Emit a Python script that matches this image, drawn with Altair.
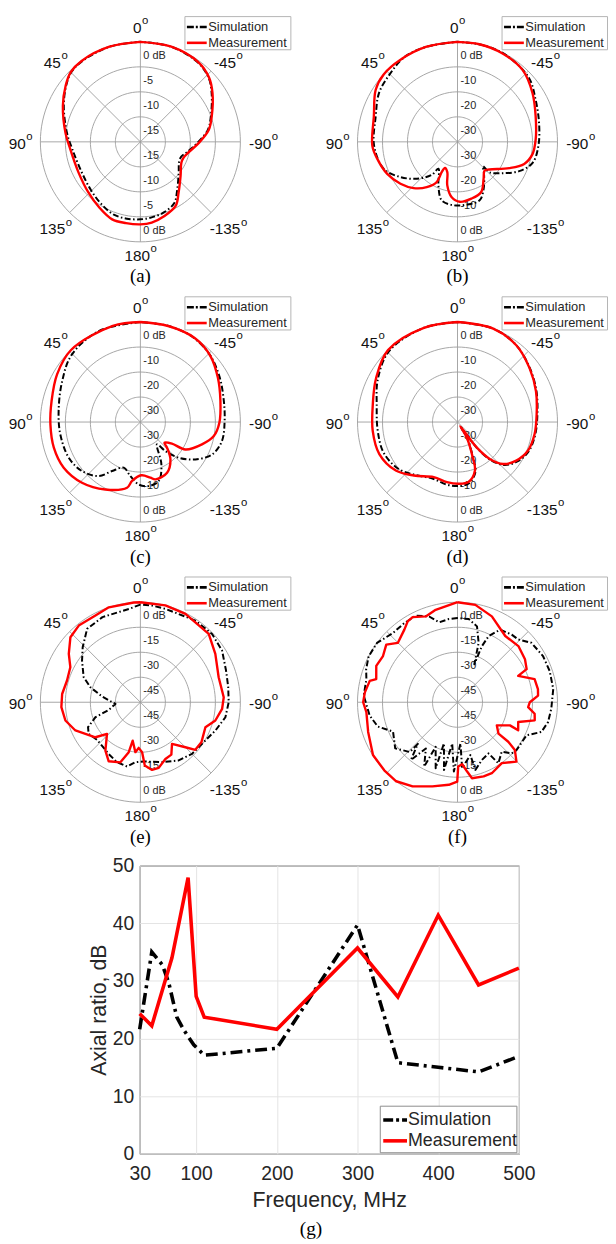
import altair as alt
import pandas as pd

# ---------------- polar pattern data (angle: deg, CCW from 0 deg at top; level: dB) ----------------
A_SIM_ANG = [0, 18, 36, 45, 53, 65, 83, 96, 116, 134, 148, 160, 170, 180, 188, 198, 209, 217, 230, 243, 250, 258, 269, 280, 290, 304, 313, 324, 342, 360]
A_SIM_DB = [0, 0, -0.1, -0.4, -1.4, -3.1, -5.2, -6.3, -6.8, -6.2, -5.3, -4.5, -4.4, -4.5, -4.7, -5.1, -6.0, -7.8, -10.0, -11.3, -11.3, -10.4, -8.6, -6.3, -5.0, -2.8, -1.3, -0.4, 0, 0]
A_MEAS_ANG = [0, 18, 36, 45, 53, 65, 83, 96, 116, 134, 148, 160, 170, 180, 188, 198, 209, 217, 230, 243, 250, 258, 269, 280, 290, 304, 313, 324, 342, 360]
A_MEAS_DB = [0, 0, 0, -0.3, -1.3, -2.9, -4.9, -5.9, -6.2, -5.5, -4.5, -3.5, -3.5, -3.5, -3.7, -4.4, -5.4, -7.3, -9.5, -10.8, -10.8, -10.1, -8.3, -6.1, -4.8, -2.6, -1.2, -0.3, 0, 0]

B_SIM_ANG = [0, 18, 32, 45, 58, 72.5, 92.7, 110.2, 121.7, 132.3, 142, 144.7, 156.3, 164.8, 176.1, 188.1, 200.7, 209.1, 221, 226.1, 226.5, 235.3, 244.6, 254.3, 267.2, 283.2, 298.4, 311.6, 330, 345, 360]
B_SIM_DB = [0, 0, 0, -1.7, -3, -5.7, -6.6, -8.6, -13.2, -18.1, -23.2, -26.8, -21, -15.8, -14.6, -14.6, -15, -18.5, -23.9, -25.9, -22.3, -18, -12.7, -8.8, -7.6, -6.5, -4.5, -1.7, -0.3, 0, 0]
B_MEAS_ANG = [0, 18, 35, 47.6, 57.5, 72.9, 92.7, 102, 114.5, 126.3, 136.5, 145.8, 152.7, 152.5, 154.3, 161.4, 166.8, 173.8, 182.2, 193.7, 205.3, 215.2, 223.3, 229.1, 243, 251.7, 260.7, 272, 288.2, 303.1, 317.9, 333, 347.4, 360]
B_MEAS_DB = [0, 0, 0, 0, -1.2, -5.0, -5.9, -7.2, -9.1, -11.7, -14.5, -18.1, -21.9, -26.3, -28.4, -27.2, -22.1, -17.8, -16, -16.6, -17.8, -21.9, -24.2, -23.1, -16.8, -11.9, -9.6, -8.7, -7.1, -4.2, -1.2, -0.3, 0, 0]

C_SIM_ANG = [0, 24, 45.3, 62.4, 82.3, 98.8, 116.5, 130, 142.3, 150, 160, 169.5, 178.5, 187.4, 197.3, 206.4, 216.7, 220.8, 227.1, 235.8, 245.7, 256.9, 270.7, 285, 300, 315, 330, 345, 360]
C_SIM_DB = [0, 0, -1.5, -4.7, -7, -7.6, -8, -9.5, -12.7, -17.4, -20.6, -18, -15, -14.2, -15.3, -21.1, -28.9, -24.7, -19, -13.4, -8.5, -6.5, -6.3, -5.5, -3.5, -1.2, 0, 0, 0]
C_MEAS_ANG = [0, 16, 43.9, 60.2, 76.7, 91.5, 106.5, 120.8, 136.1, 152.5, 168.5, 172, 181.1, 190.2, 194.7, 207.8, 218.8, 226.1, 229.3, 235.6, 238.7, 250.1, 259.2, 269.5, 284.7, 299.7, 313.3, 326.9, 343.8, 360]
C_MEAS_DB = [0, 0, 0, -1.6, -3.5, -4, -3.9, -4.3, -6.3, -9.6, -13.2, -16.2, -18.7, -17.4, -16.3, -17.1, -20.8, -25.2, -27.3, -24.7, -18.9, -13.8, -10.1, -8.4, -6.9, -4.3, -1.5, 0, 0, 0]

D_SIM_ANG = [0, 20, 44, 61.7, 78.3, 96, 112.3, 128.2, 140.8, 156.7, 170, 181, 190.3, 199.8, 203.3, 210.8, 214, 217, 221.2, 227.4, 236.7, 247.8, 261, 275.5, 291.3, 306.8, 322.6, 339.1, 360]
D_SIM_DB = [0, 0, -0.6, -3.8, -7, -7.9, -8, -9.8, -12.8, -15.3, -14.6, -14.4, -15, -18.8, -24, -32.4, -37.5, -27, -19.8, -14.6, -11.3, -9.2, -8.5, -7.9, -6.1, -3.9, -1.3, 0, 0]
D_MEAS_ANG = [0, 20, 44, 61.7, 78.3, 96, 112.3, 128.2, 140.8, 156.7, 170, 181, 190.3, 199.8, 203.3, 210.8, 214, 217, 221.2, 227.4, 236.7, 247.8, 261, 275.5, 291.3, 306.8, 322.6, 339.1, 360]
D_MEAS_DB = [0, 0, 0, -3, -5.4, -5.9, -6.2, -8.6, -12.4, -16, -15.6, -15.3, -15.6, -19.4, -24.6, -32.8, -38, -27.3, -20.4, -15.2, -11.9, -9.6, -8.8, -8.2, -6.3, -4, -1.3, 0, 0]

E_SIM_ANG = [0, 7, 24, 36, 46.4, 54.5, 66.2, 73.3, 81.6, 93.8, 103.6, 108.4, 115.5, 121.5, 131, 148.5, 158.7, 168.3, 175.2, 183.2, 200, 213.3, 225, 236, 249.3, 260, 270, 280, 290.3, 302.3, 313.6, 326, 345, 353, 360]
E_SIM_DB = [-1.4, -3.6, -4.1, -5.6, -12.2, -17, -22.8, -28.7, -36.8, -45, -40.5, -31.6, -25.2, -23.6, -25.6, -23.6, -21.4, -20.6, -23.9, -24.4, -21.8, -18.2, -16.2, -15.4, -11.9, -8.2, -7, -6.5, -5.2, -2, -0.6, -0.9, -2, -1.6, -1.4]
E_MEAS_ANG = [0, 3.8, 18.4, 27.4, 38.8, 47.1, 56, 63.4, 73.5, 84, 93.6, 103.7, 113.5, 127.9, 133.5, 144.1, 151.8, 161.6, 166.9, 168.7, 174.3, 177.9, 182, 184, 189.8, 195.6, 203.8, 210.6, 217.2, 225, 229.1, 236.7, 249, 256.3, 265.3, 273.4, 287.7, 302.8, 315, 333, 345.5, 360]
E_MEAS_DB = [0, 0, 0, -1.4, -1, -2.7, -8.2, -13, -14.1, -12.8, -12.5, -13.7, -17.5, -25.8, -32.4, -24.2, -19.8, -22, -29.2, -36.5, -29.9, -32.6, -30, -21.9, -18.8, -19.1, -22.8, -23.5, -28.6, -21.8, -16.4, -16.2, -18.2, -13.7, -10.8, -9.9, -10.7, -6.5, -2, -0.5, 0, 0]

F_SIM_ANG = [0, 5.9, 13, 18.3, 25.7, 33.9, 43, 53.6, 62.7, 70.1, 75.8, 86, 98.6, 107, 114.5, 126.5, 136.2, 136.4, 141.1, 145.6, 152.6, 153.9, 161.7, 161.8, 168.7, 172.7, 177, 184.1, 184, 193.7, 194.8, 202.9, 211.2, 213.8, 221.8, 226.6, 231, 244.4, 250.5, 257.6, 266, 277.9, 288.8, 298.4, 308.8, 316, 321.3, 329.6, 334.8, 336.5, 336.1, 340.4, 345.6, 352.3, 360]
F_SIM_DB = [-9.5, -9.8, -10.8, -5.8, -2.4, -2.8, -3.2, 0, 0, -1.7, -3.6, -3.6, -6.7, -10, -17.5, -13.5, -18.6, -25.5, -15.5, -26.4, -16.5, -30.2, -18.3, -34, -18.6, -35, -18.4, -35.2, -20.4, -27.4, -18, -22.4, -24.1, -15.9, -20.2, -15.3, -14.4, -14.1, -6.6, -4.4, -3.6, -2, -1.6, -1.7, -3.1, -7.6, -8, -9.5, -16.2, -23.3, -35.1, -22.2, -13, -9.6, -9.5]
F_MEAS_ANG = [0, 13.3, 20.3, 27.8, 31.6, 36.2, 45.2, 51, 58.2, 65.9, 74.1, 76.3, 83.9, 90, 96.2, 108.4, 122, 132.9, 142.2, 151.9, 163.4, 174, 179.8, 180.6, 184.3, 187.9, 190.8, 199.4, 205.8, 216, 224.8, 230.2, 232.1, 232.5, 239.5, 246.2, 245.2, 252, 256.8, 261.5, 266, 270, 274.7, 279.3, 286.7, 293.5, 295.6, 302.5, 312.7, 324.2, 338.2, 349.6, 360]
F_MEAS_DB = [0, -3, -5.1, -2.3, -3, -6, -9.5, -5, -7.4, -6.6, -9.3, -5.8, -4.1, -3.4, -5, -3.5, -0.2, 0, 0, -2.8, -7.3, -10.2, -12.4, -21.4, -22.7, -18, -13.6, -12.8, -12.7, -14.8, -9.8, -15.2, -21.4, -29, -32.6, -25.6, -19.9, -21.7, -12.4, -13.2, -17.5, -16.6, -11.5, -11.1, -11.7, -20.3, -14, -12, -10.3, -11, -4.5, -0.6, 0]

PANEL_TAGS = ["(a)", "(b)", "(c)", "(d)", "(e)", "(f)"]
PANEL_RMIN = [-20, -40, -40, -40, -60, -60]
RING_LABELS = [  # inner -> outer ring
    ["-15", "-10", "-5", "0 dB"],
    ["-30", "-20", "-10", "0 dB"],
    ["-30", "-20", "-10", "0 dB"],
    ["-30", "-20", "-10", "0 dB"],
    ["-45", "-30", "-15", "0 dB"],
    ["-45", "-30", "-15", "0 dB"],
]
ANGLE_TICKS = [0, 45, 90, 135, 180, -135, -90, -45]
SPOKES = [0, 45, 90, 135]
RING_FRACS = [0.25, 0.5, 0.75, 1.0]
SERIES = ["Simulation", "Measurement"]

# ---------------- axial ratio data ----------------
SIM_FREQ = [30, 45, 58, 66, 76, 85, 97, 110, 200, 300, 350, 400, 450, 500]
SIM_AR = [21.6, 35.0, 32.8, 29.7, 23.7, 21.4, 18.9, 17.1, 18.3, 39.7, 15.8, 15.0, 14.2, 16.9]
MEAS_FREQ = [30, 45, 70, 90, 100, 110, 200, 300, 350, 400, 450, 500]
MEAS_AR = [24.3, 22.2, 34.0, 47.9, 27.3, 23.7, 21.6, 35.7, 27.2, 41.4, 29.3, 32.2]
FREQ_TICKS = [30, 100, 200, 300, 400, 500]
AR_TICKS = [0, 10, 20, 30, 40, 50]

CURVES = [
    (A_SIM_ANG, A_SIM_DB, A_MEAS_ANG, A_MEAS_DB),
    (B_SIM_ANG, B_SIM_DB, B_MEAS_ANG, B_MEAS_DB),
    (C_SIM_ANG, C_SIM_DB, C_MEAS_ANG, C_MEAS_DB),
    (D_SIM_ANG, D_SIM_DB, D_MEAS_ANG, D_MEAS_DB),
    (E_SIM_ANG, E_SIM_DB, E_MEAS_ANG, E_MEAS_DB),
    (F_SIM_ANG, F_SIM_DB, F_MEAS_ANG, F_MEAS_DB),
]
INTERP = ["catmull-rom"] * 4 + ["linear"] * 2

# ---------------- style / layout ----------------
FONT = "Liberation Sans"
SERIF = "Liberation Serif"
TXT = "#262626"
GRID = "#9c9c9c"
RED = "#ff0000"
R_PX = 101.0
PANEL_H = 282
LEFT_W, RIGHT_W = 300, 306
LEFT_CX, RIGHT_CX = 133.7, 154.0
CY = 128.0
FS_ANG = 15.5
FS_O = 11.5
OW = 0.556 * FS_O
SIM_DASH = [6, 2.5, 1.5, 2.5]

ONE = pd.DataFrame({"k": [0]})


def curve_df(ang, db):
    return pd.DataFrame({"ang": ang, "db": db, "idx": list(range(len(ang)))})


def polar_panel(k, width, cx):
    sim_ang, sim_db, meas_ang, meas_db = CURVES[k]
    rmin = PANEL_RMIN[k]
    xs = alt.Scale(domain=[-cx / R_PX, (width - cx) / R_PX], nice=False, zero=False)
    ys = alt.Scale(domain=[(CY - PANEL_H) / R_PX, CY / R_PX], nice=False, zero=False)

    def X(f):
        return alt.X(f, type="quantitative", scale=xs, axis=None)

    def Y(f):
        return alt.Y(f, type="quantitative", scale=ys, axis=None)

    ring_rows = pd.DataFrame([{"ring": r, "ang": a} for r in RING_FRACS for a in range(0, 361, 3)])
    rings = alt.Chart(ring_rows).transform_calculate(
        px="-datum.ring*sin(datum.ang*PI/180)", py="datum.ring*cos(datum.ang*PI/180)"
    ).mark_line(color=GRID, strokeWidth=0.9).encode(
        x=X("px"), y=Y("py"), detail="ring:N", order=alt.Order("ang:Q")
    )

    spokes = alt.Chart(pd.DataFrame({"ang": SPOKES})).transform_calculate(
        x1="-sin(datum.ang*PI/180)", y1="cos(datum.ang*PI/180)",
        x2="sin(datum.ang*PI/180)", y2="-cos(datum.ang*PI/180)",
    ).mark_rule(color=GRID, strokeWidth=0.9).encode(x=X("x1"), y=Y("y1"), x2="x2:Q", y2="y2:Q")

    labs = RING_LABELS[k]
    lab_df = pd.DataFrame({
        "ring": RING_FRACS + RING_FRACS,
        "txt": labs + labs,
        "side": [1] * 4 + [-1] * 4,
    })
    ring_text = alt.Chart(lab_df).transform_calculate(
        lx=f"{3.0 / R_PX}",
        ly=f"datum.side > 0 ? datum.ring - {14.0 / R_PX} : -(datum.ring - {11.0 / R_PX})",
    ).mark_text(font=FONT, fontSize=11, color=TXT, align="left", baseline="middle").encode(
        x=X("lx"), y=Y("ly"), text="txt:N"
    )

    def curve_layer(ang, db, color, width_, dash=None):
        kw = dict(color=color, strokeWidth=width_, interpolate=INTERP[k], strokeJoin="round")
        if dash:
            kw["strokeDash"] = dash
        return alt.Chart(curve_df(ang, db)).transform_calculate(
            rho=f"(datum.db - ({rmin})) / {-rmin}",
            px="-datum.rho*sin(datum.ang*PI/180)",
            py="datum.rho*cos(datum.ang*PI/180)",
        ).mark_line(**kw).encode(x=X("px"), y=Y("py"), order=alt.Order("idx:Q"))

    sim = curve_layer(sim_ang, sim_db, "black", 2.0, SIM_DASH)
    meas = curve_layer(meas_ang, meas_db, RED, 2.4)

    ang_base = alt.Chart(pd.DataFrame({"ang": ANGLE_TICKS})).transform_calculate(
        t="toString(datum.ang)",
        s="sin(datum.ang*PI/180)",
        c="cos(datum.ang*PI/180)",
        numw=f"{FS_ANG}*(0.556*length(toString(datum.ang)) - (datum.ang < 0 ? 0.223 : 0))",
        lx=f"-datum.s*1.2 + (datum.ang < 0 ? {3.0 / R_PX} : 0) + (datum.numw - {OW})/2/{R_PX}",
        ly="datum.c*1.14 - (datum.c < -0.1 ? 0.1 : 0.02)*abs(datum.s)",
    )
    ang_num = ang_base.mark_text(font=FONT, fontSize=FS_ANG, color="#111111", align="right",
                                 baseline="middle").encode(x=X("lx"), y=Y("ly"), text="t:N")
    ang_sup = ang_base.mark_text(font=FONT, fontSize=FS_O, color="#111111", align="left",
                                 baseline="middle", dx=0.5, dy=-7, text="o").encode(x=X("lx"), y=Y("ly"))

    box = alt.Chart(ONE).mark_rect(fill="white", stroke="#b4b4b4", strokeWidth=1).encode(
        x=alt.value(cx + 45), x2=alt.value(min(cx + 152, width - 0.5)),
        y=alt.value(CY - 127 + 0.5), y2=alt.value(CY - 93),
    )
    leg_sim_line = alt.Chart(ONE).mark_rule(color="black", strokeWidth=2.6, strokeDash=[7, 2, 2, 2]).encode(
        x=alt.value(cx + 47), x2=alt.value(cx + 67), y=alt.value(CY - 116))
    leg_meas_line = alt.Chart(ONE).mark_rule(color=RED, strokeWidth=2.6).encode(
        x=alt.value(cx + 47), x2=alt.value(cx + 67), y=alt.value(CY - 100))
    leg_sim_txt = alt.Chart(ONE).mark_text(text=SERIES[0], font=FONT, fontSize=13, color=TXT,
                                           align="left", baseline="middle").encode(
        x=alt.value(cx + 68.5), y=alt.value(CY - 116))
    leg_meas_txt = alt.Chart(ONE).mark_text(text=SERIES[1], font=FONT, fontSize=13, color=TXT,
                                            align="left", baseline="middle").encode(
        x=alt.value(cx + 68.5), y=alt.value(CY - 100))
    tag = alt.Chart(ONE).mark_text(text=PANEL_TAGS[k], font=SERIF, fontSize=19, color="black",
                                   baseline="middle").encode(x=alt.value(cx), y=alt.value(CY + 136))

    return alt.layer(
        rings, spokes, ring_text, sim, meas, ang_num, ang_sup,
        box, leg_sim_line, leg_meas_line, leg_sim_txt, leg_meas_txt, tag,
    ).properties(width=width, height=PANEL_H, view=alt.ViewBackground(stroke=None))


rows = []
for r in range(3):
    left = polar_panel(2 * r, LEFT_W, LEFT_CX)
    right = polar_panel(2 * r + 1, RIGHT_W, RIGHT_CX)
    rows.append(alt.hconcat(left, right, spacing=0))

# ---------------- axial ratio chart ----------------
G_W, G_H = 383, 291
xg = alt.Scale(domain=[30, 500], nice=False, zero=False)
yg = alt.Scale(domain=[0, 50], nice=False, zero=False)
x_axis = alt.Axis(values=FREQ_TICKS, title="Frequency, MHz", grid=True, gridColor="#e4e4e4",
                  domain=False, ticks=False, labelPadding=11, labelFlush=False, labelOverlap=False,
                  labelFont=FONT, labelFontSize=19.5, labelColor=TXT, titleFont=FONT,
                  titleFontSize=21.5, titleFontWeight="normal", titleColor=TXT, titlePadding=6.5)
y_axis = alt.Axis(values=AR_TICKS, title="Axial ratio, dB", grid=True, gridColor="#e4e4e4",
                  domain=False, ticks=False, labelPadding=6, labelFlush=False, labelOverlap=False,
                  labelFont=FONT, labelFontSize=19.5, labelColor=TXT, titleFont=FONT,
                  titleFontSize=21.5, titleFontWeight="normal", titleColor=TXT, titlePadding=2)

g_sim = alt.Chart(pd.DataFrame({"f": SIM_FREQ, "ar": SIM_AR})).mark_line(
    color="black", strokeWidth=3.6, strokeDash=[12, 5, 3, 5]).encode(
    x=alt.X("f:Q", scale=xg, axis=x_axis), y=alt.Y("ar:Q", scale=yg, axis=y_axis))
g_meas = alt.Chart(pd.DataFrame({"f": MEAS_FREQ, "ar": MEAS_AR})).mark_line(
    color=RED, strokeWidth=3.6).encode(x=alt.X("f:Q", scale=xg), y=alt.Y("ar:Q", scale=yg))

g_box = alt.Chart(ONE).mark_rect(fill="white", stroke="#8c8c8c", strokeWidth=1).encode(
    x=alt.value(G_W - 140), x2=alt.value(G_W - 2), y=alt.value(243), y2=alt.value(G_H - 1))
g_l1 = alt.Chart(ONE).mark_rule(color="black", strokeWidth=3.6, strokeDash=[10, 3, 3, 3]).encode(
    x=alt.value(G_W - 137), x2=alt.value(G_W - 113), y=alt.value(257))
g_l2 = alt.Chart(ONE).mark_rule(color=RED, strokeWidth=3.6).encode(
    x=alt.value(G_W - 137), x2=alt.value(G_W - 113), y=alt.value(278))
g_t1 = alt.Chart(ONE).mark_text(text=SERIES[0], font=FONT, fontSize=18, color=TXT, align="left",
                                baseline="middle").encode(x=alt.value(G_W - 112), y=alt.value(257))
g_t2 = alt.Chart(ONE).mark_text(text=SERIES[1], font=FONT, fontSize=18, color=TXT, align="left",
                                baseline="middle").encode(x=alt.value(G_W - 112), y=alt.value(278))
g_tag = alt.Chart(ONE).mark_text(text="(g)", font=SERIF, fontSize=19.5, color="black",
                                 baseline="middle").encode(x=alt.value(173), y=alt.value(367))

g_chart = alt.layer(g_sim, g_meas, g_box, g_l1, g_l2, g_t1, g_t2, g_tag).properties(
    width=G_W, height=G_H, view=alt.ViewBackground(stroke="#262626", strokeWidth=1))

spacer = alt.Chart(ONE).mark_rule(opacity=0).encode(
    x=alt.value(0), x2=alt.value(1), y=alt.value(0)).properties(width=80, height=1)
bottom = alt.hconcat(spacer, g_chart, spacing=0)

chart = alt.vconcat(*rows, bottom, spacing=0).properties(
    padding={"left": 0, "top": 0, "right": 0, "bottom": 0}
).configure_view(stroke=None)

chart.save("out.html", embed_options={"renderer": "svg", "actions": False})
